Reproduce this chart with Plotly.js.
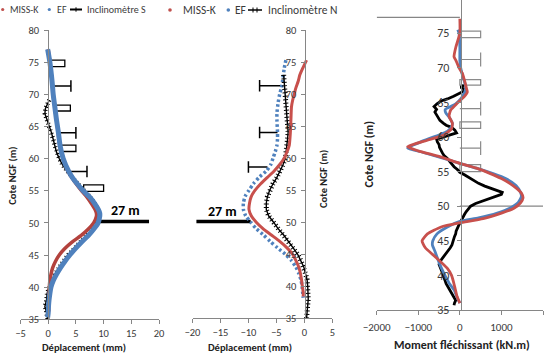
<!DOCTYPE html>
<html>
<head>
<meta charset="utf-8">
<script src="https://cdn.plot.ly/plotly-3.0.1.min.js"></script>
<style>html,body{margin:0;padding:0;background:#fff;}#chart{width:545px;height:354px;}</style>
</head>
<body>
<div id="chart"></div>
<script>
// ---------- Panel 1 : Inclinomètre S (Déplacement, mm) ----------
const p1MissY = [77, 75, 72, 70, 68, 66, 64, 62, 60, 58, 57, 56, 55, 54, 53, 52, 51.5, 51, 50, 49, 48, 47, 46, 45, 44, 43, 42, 41, 40, 38, 36.2];
const p1MissX = [0, 0.3, 0.7, 0.9, 1.2, 1.5, 1.8, 2.1, 2.7, 3.6, 4.3, 5.1, 6.0, 7.0, 7.8, 8.5, 8.7, 8.7, 8.2, 7.2, 5.9, 4.3, 3.0, 2.0, 1.3, 0.8, 0.5, 0.3, 0.2, 0.1, 0.1];
const p1EfY = [77, 75, 72, 70, 68, 66, 64, 62, 60, 58, 57, 56, 55, 54, 53, 52, 51.5, 51, 50, 49, 48, 47, 46, 45, 44, 43, 42, 41, 40, 39, 38, 37, 36, 35.3];
const p1EfX = [-0.1, 0.3, 0.7, 0.9, 1.2, 1.5, 1.85, 2.15, 2.7, 3.7, 4.4, 5.3, 6.3, 7.5, 8.4, 9.1, 9.3, 9.3, 9.0, 8.2, 7.2, 6.0, 4.9, 3.9, 3.0, 2.2, 1.5, 0.9, 0.5, 0.3, 0.15, 0.05, 0, -0.1];
const p1InclY = [69.1, 68.5, 67.8, 67, 66.5, 66, 65, 64, 63, 62, 61, 60, 59, 58, 57, 56, 55, 54, 53, 52, 51, 50, 49, 48, 47, 46, 45, 44, 43, 42, 41, 40, 39, 38, 37, 36.5, 36, 35.5, 35];
const p1InclX = [0.2, -0.1, -0.5, -0.6, -0.4, -0.2, 0.3, 0.6, 0.9, 1.2, 1.5, 2.0, 2.6, 3.4, 4.4, 5.4, 6.5, 7.6, 8.4, 9.0, 9.2, 8.8, 8.0, 6.9, 5.7, 4.6, 3.6, 2.7, 1.9, 1.2, 0.6, 0.1, -0.2, -0.3, -0.6, -0.4, -0.3, -0.2, -0.1];

// ---------- Panel 2 : Inclinomètre N (Déplacement, mm) ----------
const p2EfY = [75.3, 74, 72, 71, 70, 68.6, 67, 66, 64, 63, 62, 61, 60, 59, 58, 57, 56, 55, 54, 53, 52, 51, 50, 49, 48, 47, 46, 45, 44, 43, 42, 41, 40, 39, 38.2];
const p2EfX = [-3.3, -3.6, -3.9, -4.1, -4.4, -4.7, -4.9, -4.9, -4.8, -4.8, -4.9, -5.2, -5.6, -6.0, -6.8, -8.1, -9.1, -9.9, -10.6, -10.9, -10.9, -10.5, -9.6, -8.6, -7.3, -6.1, -4.8, -3.4, -2.3, -1.5, -1.0, -0.6, -0.4, -0.3, -0.2];
const p2MissY = [75.3, 74, 73, 72, 71, 70, 69, 68, 66, 64, 62, 61, 60, 59, 58, 57, 56, 55, 54, 53, 52, 51, 50, 49, 48, 47, 46, 45, 44, 43, 42, 41, 40, 39, 38.4];
const p2MissX = [0.4, -0.3, -0.8, -1.1, -1.5, -1.8, -2.1, -2.3, -2.4, -2.5, -2.7, -3.1, -3.6, -4.4, -5.4, -6.6, -7.8, -8.8, -9.5, -9.8, -9.9, -9.5, -8.6, -7.4, -5.9, -4.4, -3.1, -2.1, -1.5, -1.0, -0.7, -0.5, -0.35, -0.2, -0.2];
const p2InclY = [73, 72, 71, 70, 69, 68, 67, 66, 65, 64, 63, 62, 61, 60, 59, 58, 57, 56, 55, 54, 53, 52, 51, 50, 49, 48, 47, 46, 45, 44, 43, 42, 41, 40, 39, 38, 37, 36, 35];
const p2InclX = [-3.7, -3.6, -3.5, -3.4, -3.35, -3.2, -3.1, -3.0, -2.9, -2.9, -3.0, -3.1, -3.2, -3.4, -3.8, -4.3, -4.9, -5.6, -6.2, -6.6, -6.8, -6.8, -6.4, -5.5, -4.7, -3.7, -2.8, -2.0, -1.2, -0.6, -0.1, 0.2, 0.5, 0.6, 0.7, 0.7, 0.6, 0.5, 0.4];

// ---------- Panel 3 : Moment fléchissant (kN.m) ----------
const p3MissY = [77.1, 75, 73, 71.6, 71, 70, 69.2, 68, 67, 66.5, 65.8, 64.9, 63.9, 63, 62, 61.2, 60.3, 59.5, 58.6, 58, 57.2, 56.2, 55.5, 54.75, 54, 53.3, 52.5, 51.9, 51.2, 50.5, 49.7, 49, 48.2, 47.6, 47, 46, 45, 44, 43, 42, 41, 40, 39, 38, 37, 36];
const p3MissM = [0, 0, -96, -140, -90, -20, 60, 120, 160, 180, 100, -60, -220, -260, -180, -200, -380, -800, -1256, -1000, -500, 0, 400, 720, 1000, 1200, 1380, 1480, 1520, 1460, 1300, 1000, 560, 0, -450, -780, -910, -830, -650, -470, -300, -200, -150, -110, -70, 0];
const p3EfY = [75.5, 75, 73, 71, 70, 69, 68, 67.3, 66.5, 65.5, 64.8, 64, 63.5, 62.8, 62, 61.5, 60.8, 60.3, 59.4, 58.4, 57.8, 57, 56.2, 55.5, 54.7, 54, 53, 52, 51.4, 50.5, 49.7, 49, 48.3, 47.8, 47, 46, 45, 44.4, 43.5, 42.5, 41.7, 40.5, 39.8, 38.8, 37.9, 36.7, 36];
const p3EfM = [-50, -20, 0, 0, 20, 60, 110, 140, 120, 20, -100, -350, -340, -250, -180, -200, -300, -500, -900, -1256, -900, -450, 0, 400, 800, 1100, 1350, 1460, 1480, 1400, 1200, 900, 450, 0, -300, -550, -650, -660, -600, -540, -490, -400, -340, -250, -140, -56, 0];
const p3InclY = [67.5, 67.2, 66.8, 66.3, 65.9, 65.5, 65.2, 64.8, 64.4, 64.0, 63.6, 63.2, 62.8, 62.4, 62.0, 61.7, 61.4, 61.0, 60.6, 60.3, 60.0, 59.7, 59.3, 58.9, 58.5, 58.1, 57.7, 57.3, 56.9, 56.5, 56.1, 55.7, 55.3, 54.9, 54.5, 54.1, 53.7, 53.3, 52.9, 52.6, 52.3, 52.0, 51.7, 51.4, 51.1, 50.8, 50.4, 50.0, 49.6, 49.2, 48.8, 48.4, 48.0, 47.6, 47.2, 46.8, 46.4, 46.0, 45.6, 45.2, 44.8, 44.4, 44.0, 43.6, 43.2, 42.8, 42.4, 42.0, 41.6, 41.2, 40.8, 40.4, 40.0, 39.6, 39.2, 38.8, 38.4, 38.0, 37.6, 37.2, 36.8, 36.4, 36.0, 35.7];
const p3InclM = [100, 20, 150, 0, -150, -300, -450, -550, -620, -560, -600, -560, -520, -480, -400, -330, -200, -120, -80, -250, -420, -560, -540, -500, -490, -460, -420, -380, -300, -250, -200, -140, -60, 0, 120, 220, 320, 450, 600, 740, 900, 1020, 1000, 860, 700, 540, 380, 260, 200, 150, 110, 80, 40, 0, -40, -60, -90, -100, -130, -150, -170, -190, -230, -280, -330, -380, -430, -480, -500, -470, -440, -420, -400, -380, -350, -330, -290, -250, -200, -160, -120, -100, -130, -140];

// ---------- Anchor / strut levels ----------
const boxLevelsS = [[74.3, 75.3], [67.4, 68.3], [61.1, 62.1], [54.9, 55.9]];
const boxLeftS = [0.4, 1.3, 2.2, 6.4];
const boxRightS = [3, 4, 5, 10];
const tieLevelsS = [71.3, 64.0, 58.0];
const tieLeftS = [0.9, 1.9, 3.6];
const tieRightS = [4.1, 5.0, 7.0];
const tieLevelsN = [71.3, 64.0, 58.6];
const tieRightN = [-4.2, -4.8, -6.6];
const tieLeftN = [-8, -8, -10];
const boxLevelsM = [[74.35, 75.3], [67.5, 68.3], [61.25, 62.2], [55.0, 56.0]];
const tieLevelsM = [71.2, 64.1, 58.4];
const anchorLenM = 500;
const excavLevel = 50.2;
const excavLabel = '27 m';

const categoriesLegend = ['MISS-K', 'EF', 'Inclinomètre S', 'MISS-K', 'EF', 'Inclinomètre N'];

// ---------- Layout helpers ----------
const W = 545, H = 354;
const F = "Carlito, Lato, 'Liberation Sans', sans-serif";
const px = v => v / W;
const py = v => 1 - v / H;
const RED1 = '#B3423D', RED = '#C8504C', BLUE = '#4F81BD', AX = '#868686', TXT = '#3a3a3a';

const axBase = {
  showgrid: false, zeroline: false, showline: true, linecolor: AX, linewidth: 1,
  ticks: 'outside', ticklen: 4, tickcolor: AX, tickwidth: 1,
  tickfont: { family: F, size: 10.5, color: TXT }, fixedrange: true
};

function inclTraces(x, y, xa, ya, w) {
  return [
    { x: x, y: y, xaxis: xa, yaxis: ya, mode: 'lines', line: { color: '#000', width: 1.4 }, hoverinfo: 'skip', showlegend: false },
    { x: x, y: y, xaxis: xa, yaxis: ya, mode: 'lines', line: { color: '#000', width: w, dash: '1px,2.5px' }, hoverinfo: 'skip', showlegend: false }
  ];
}

const traces = [].concat(
  inclTraces(p1InclX, p1InclY, 'x', 'y', 4.5),
  [{ x: p1MissX, y: p1MissY, xaxis: 'x', yaxis: 'y', mode: 'lines', line: { color: RED1, width: 3.5, shape: 'spline', smoothing: 0.6 }, showlegend: false },
   { x: p1EfX, y: p1EfY, xaxis: 'x', yaxis: 'y', mode: 'lines', line: { color: BLUE, width: 5, shape: 'spline', smoothing: 0.6 }, showlegend: false },
   { x: p2EfX, y: p2EfY, xaxis: 'x2', yaxis: 'y2', mode: 'lines', line: { color: BLUE, width: 3.5, dash: '2.5px,2.5px', shape: 'spline', smoothing: 0.6 }, showlegend: false }],
  inclTraces(p2InclX, p2InclY, 'x2', 'y2', 5),
  [{ x: p2MissX, y: p2MissY, xaxis: 'x2', yaxis: 'y2', mode: 'lines', line: { color: RED, width: 3, shape: 'spline', smoothing: 0.6 }, showlegend: false },
   { x: p3InclM, y: p3InclY, xaxis: 'x3', yaxis: 'y3', mode: 'lines', line: { color: '#000', width: 2.8 }, showlegend: false },
   { x: p3EfM, y: p3EfY, xaxis: 'x3', yaxis: 'y3', mode: 'lines', line: { color: BLUE, width: 2.8, shape: 'spline', smoothing: 0.5 }, showlegend: false },
   { x: p3MissM, y: p3MissY, xaxis: 'x3', yaxis: 'y3', mode: 'lines', line: { color: RED, width: 2.8, shape: 'spline', smoothing: 0.5 }, showlegend: false }]
);

const shapes = [];
function hline(xr, yr, x0, x1, y, color, w) { shapes.push({ type: 'line', xref: xr, yref: yr, x0: x0, x1: x1, y0: y, y1: y, line: { color: color, width: w }, layer: 'below' }); }
function vline(xr, yr, x, y0, y1, color, w) { shapes.push({ type: 'line', xref: xr, yref: yr, x0: x, x1: x, y0: y0, y1: y1, line: { color: color, width: w }, layer: 'below' }); }
function box(xr, yr, x0, x1, y0, y1, color, w) { shapes.push({ type: 'rect', xref: xr, yref: yr, x0: x0, x1: x1, y0: y0, y1: y1, line: { color: color, width: w }, fillcolor: 'rgba(0,0,0,0)', layer: 'below' }); }

// Panel 1 anchors
boxLevelsS.forEach((b, i) => box('x', 'y', boxLeftS[i], boxRightS[i], b[0], b[1], '#000', 1.3));
tieLevelsS.forEach((l, i) => { hline('x', 'y', tieLeftS[i], tieRightS[i], l, '#000', 1.5); vline('x', 'y', tieRightS[i], l - 0.9, l + 0.9, '#000', 1.5); });
hline('x', 'y', 8.45, 18.2, excavLevel, '#000', 3.5);
// Panel 2 anchors
tieLevelsN.forEach((l, i) => { hline('x2', 'y2', tieLeftN[i], tieRightN[i], l, '#000', 1.5); vline('x2', 'y2', tieLeftN[i], l - 0.9, l + 0.9, '#000', 1.5); });
hline('x2', 'y2', -19.3, -9.6, 50.1, '#000', 3.5);
// Panel 3 anchors
boxLevelsM.forEach(b => box('x3', 'y3', 0, anchorLenM, b[0], b[1], '#8a8a8a', 1.2));
tieLevelsM.forEach(l => { hline('x3', 'y3', 0, anchorLenM, l, '#8a8a8a', 1.2); vline('x3', 'y3', anchorLenM, l - 1.0, l + 1.0, '#8a8a8a', 1.2); });
hline('x3', 'y3', -2000, 0, 77.3, AX, 1.2);
hline('x3', 'y3', 0, 2000, 50, AX, 1.2);

// Legend symbols (paper, px based)
function pdot(cx, cy, r, color) { shapes.push({ type: 'circle', xref: 'paper', yref: 'paper', x0: px(cx - r), x1: px(cx + r), y0: py(cy + r), y1: py(cy - r), fillcolor: color, line: { width: 0 } }); }
function pline(x0, x1, y, w) { shapes.push({ type: 'line', xref: 'paper', yref: 'paper', x0: px(x0), x1: px(x1), y0: py(y), y1: py(y), line: { color: '#000', width: w } }); }
function ptick(x, y, h) { shapes.push({ type: 'line', xref: 'paper', yref: 'paper', x0: px(x), x1: px(x), y0: py(y - h), y1: py(y + h), line: { color: '#000', width: 1 } }); }
pdot(2.7, 9.5, 1.6, '#C0504D');
pdot(49.3, 9.5, 1.6, BLUE);
pline(70, 82, 9.5, 2); ptick(76, 9.5, 2.2);
pdot(170, 10, 1.8, '#C0504D');
pdot(228.3, 10, 1.8, BLUE);
pline(248, 262, 10, 1.5); ptick(253, 10, 2.5); ptick(257, 10, 2.5);

const ann = [];
function txt(x, y, t, size, opts) {
  ann.push(Object.assign({ xref: 'paper', yref: 'paper', x: px(x), y: py(y), text: t, showarrow: false,
    font: { family: F, size: size, color: TXT }, xanchor: 'left', yanchor: 'middle' }, opts || {}));
}
// legend texts
txt(8, 9.5, categoriesLegend[0], 10);
txt(54.5, 9.5, categoriesLegend[1], 10);
txt(84.5, 9.5, categoriesLegend[2], 10);
txt(180.5, 10, categoriesLegend[3], 11.5);
txt(233, 10, categoriesLegend[4], 11.5);
txt(265.5, 10, categoriesLegend[5], 11.5);
// axis titles
txt(11.7, 176, '<b>Cote NGF (m)</b>', 10.5, { xanchor: 'center', textangle: -90, font: { family: F, size: 10.5, color: '#222' } });
txt(84, 347, '<b>Déplacement (mm)</b>', 10.5, { xanchor: 'center', font: { family: F, size: 10.5, color: '#222' } });
txt(250, 347, '<b>Déplacement (mm)</b>', 10.5, { xanchor: 'center', font: { family: F, size: 10.5, color: '#222' } });
txt(324, 179, '<b>Cote NGF (m)</b>', 10.5, { xanchor: 'center', textangle: -90, font: { family: F, size: 10.5, color: '#222' } });
txt(368.5, 154, '<b>Cote NGF (m)</b>', 12, { xanchor: 'center', textangle: -90, font: { family: F, size: 12, color: '#222' } });
txt(462, 345, '<b>Moment fléchissant (kN.m)</b>', 12, { xanchor: 'center', font: { family: F, size: 12, color: '#222' } });
// 27 m labels
txt(125, 210, '<b>' + excavLabel + '</b>', 14, { xanchor: 'center', font: { family: F, size: 14, color: '#000' } });
txt(222.5, 211.7, '<b>' + excavLabel + '</b>', 14, { xanchor: 'center', font: { family: F, size: 14, color: '#000' } });

const layout = {
  width: W, height: H, margin: { l: 0, r: 0, t: 0, b: 0 },
  paper_bgcolor: '#fff', plot_bgcolor: 'rgba(0,0,0,0)', showlegend: false,
  xaxis: Object.assign({}, axBase, { domain: [px(20.5), px(159)], range: [-5, 20], tickvals: [-5, 0, 5, 10, 15, 20], anchor: 'y' }),
  yaxis: Object.assign({}, axBase, { domain: [py(319.3), py(30)], range: [35, 80], dtick: 5, tick0: 35, anchor: 'free', position: px(48.2), ticklabelstandoff: 3 }),
  xaxis2: Object.assign({}, axBase, { domain: [px(192.5), px(332.3)], range: [-20, 5], tickvals: [-20, -15, -10, -5, 0, 5], anchor: 'y2' }),
  yaxis2: Object.assign({}, axBase, { domain: [py(318.3), py(30)], range: [35, 80], dtick: 5, tick0: 35, anchor: 'free', position: px(304.5), ticklabelstandoff: 2 }),
  xaxis3: Object.assign({}, axBase, { domain: [px(376.7), px(543)], range: [-2000, 2000], tickvals: [-2000, -1000, 0, 1000, 2000], anchor: 'y3', tickfont: { family: F, size: 11, color: TXT }, ticklabelstandoff: 3 }),
  yaxis3: Object.assign({}, axBase, { domain: [py(310), 1], range: [35, 79.8], tickvals: [35, 40, 45, 50, 55, 60, 65, 70, 75], anchor: 'free', position: px(460.7), tickfont: { family: F, size: 12, color: TXT }, ticklabelstandoff: 5 }),
  shapes: shapes, annotations: ann
};

Plotly.newPlot('chart', traces, layout, { staticPlot: true, displayModeBar: false });
</script>
</body>
</html>
